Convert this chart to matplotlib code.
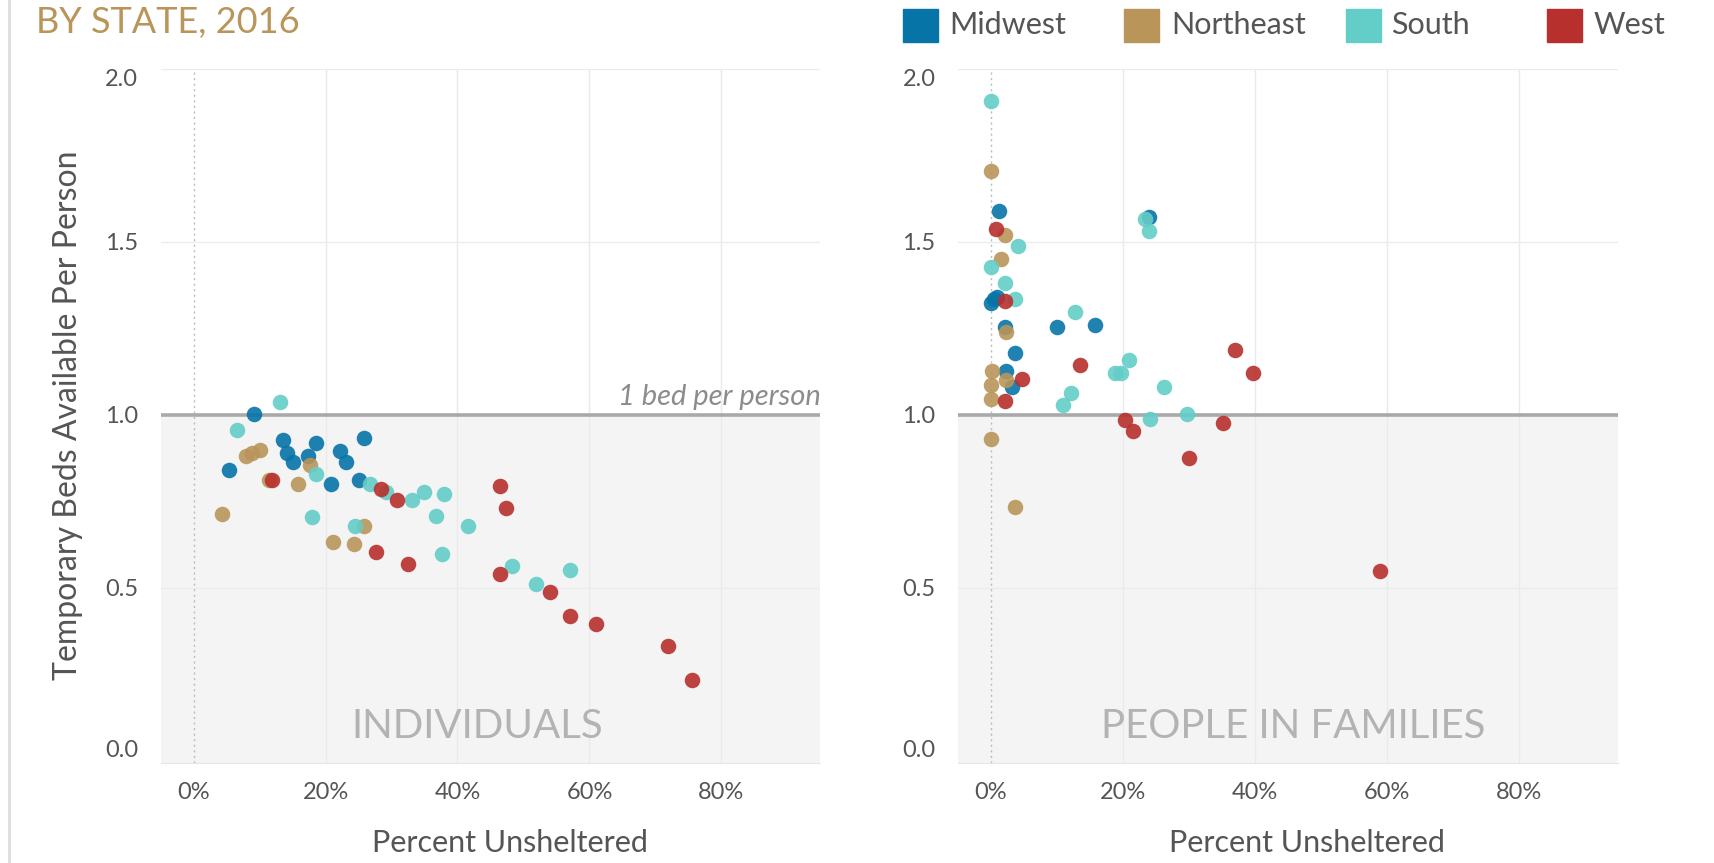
import matplotlib.pyplot as plt
from matplotlib.patches import Rectangle
from matplotlib.lines import Line2D

plt.rcParams['font.family'] = ['Lato', 'DejaVu Sans']

regions = ["Midwest", "Northeast", "South", "West"]
colors = {"Midwest": "#0774a8", "Northeast": "#b9955a", "South": "#63cdc7", "West": "#b7302d"}

# individuals: percent unsheltered (x) and temporary beds per person (y)
ind_midwest_x = [5.4, 9.2, 13.6, 14.2, 15.1, 17.3, 18.5, 20.9, 22.2, 23.1, 25.1, 25.8]
ind_midwest_y = [0.841, 1.003, 0.928, 0.89, 0.863, 0.882, 0.918, 0.80, 0.895, 0.863, 0.813, 0.933]
ind_northeast_x = [4.3, 7.9, 8.8, 10.1, 11.4, 15.8, 17.7, 21.2, 24.3, 25.8]
ind_northeast_y = [0.714, 0.882, 0.89, 0.899, 0.813, 0.80, 0.855, 0.632, 0.627, 0.68]
ind_south_x = [6.6, 13.1, 17.9, 18.5, 24.5, 26.7, 29.2, 33.1, 34.9, 36.7, 37.6, 38.0, 41.6, 48.3, 51.9, 57.1]
ind_south_y = [0.957, 1.037, 0.704, 0.828, 0.68, 0.80, 0.776, 0.753, 0.776, 0.709, 0.599, 0.771, 0.68, 0.563, 0.512, 0.552]
ind_west_x = [11.9, 27.7, 28.4, 30.9, 32.5, 46.4, 47.3, 46.4, 54.0, 57.1, 61.0, 71.9, 75.6]
ind_west_y = [0.813, 0.603, 0.786, 0.755, 0.57, 0.794, 0.73, 0.541, 0.488, 0.419, 0.397, 0.333, 0.235]

# people in families
fam_midwest_x = [1.2, 0.0, 0.5, 1.0, 24.0, 2.2, 10.0, 15.8, 3.7, 2.4, 3.3]
fam_midwest_y = [1.588, 1.322, 1.335, 1.34, 1.571, 1.255, 1.255, 1.259, 1.18, 1.127, 1.08]
fam_northeast_x = [0.0, 2.2, 1.5, 2.4, 0.2, 2.4, 0.0, 0.0, 0.0, 3.7]
fam_northeast_y = [1.705, 1.52, 1.451, 1.24, 1.128, 1.10, 1.087, 1.047, 0.931, 0.734]
fam_south_x = [0.0, 4.2, 0.0, 2.2, 3.7, 23.4, 24.0, 12.8, 12.1, 10.9, 18.8, 19.8, 21.0, 26.2, 24.2, 29.8]
fam_south_y = [1.907, 1.487, 1.427, 1.381, 1.336, 1.566, 1.53, 1.296, 1.063, 1.029, 1.122, 1.122, 1.157, 1.081, 0.989, 1.001]
fam_west_x = [0.8, 2.2, 4.8, 2.2, 13.6, 20.3, 21.6, 35.2, 30.1, 37.0, 39.8, 59.0]
fam_west_y = [1.537, 1.329, 1.104, 1.041, 1.145, 0.984, 0.953, 0.977, 0.874, 1.186, 1.122, 0.55]

individuals = {
    "Midwest": (ind_midwest_x, ind_midwest_y),
    "Northeast": (ind_northeast_x, ind_northeast_y),
    "South": (ind_south_x, ind_south_y),
    "West": (ind_west_x, ind_west_y),
}
families = {
    "Midwest": (fam_midwest_x, fam_midwest_y),
    "Northeast": (fam_northeast_x, fam_northeast_y),
    "South": (fam_south_x, fam_south_y),
    "West": (fam_west_x, fam_west_y),
}

fig = plt.figure(figsize=(17.15, 8.63), dpi=100)
ax1 = fig.add_axes([0.0936, 0.1162, 0.3848, 0.8042])
ax2 = fig.add_axes([0.5584, 0.1162, 0.3848, 0.8042])


def draw_panel(ax, data, panel_label, label_x):
    ax.set_xlim(-5, 95)
    ax.set_ylim(-0.005, 2.0)
    ax.axhspan(-0.005, 1.0, color="#f4f4f4", zorder=0)
    for gx in [20, 40, 60, 80]:
        ax.axvline(gx, color="#eaeaea", lw=1, zorder=1)
    for gy in [0.5, 1.5, 2.0]:
        ax.axhline(gy, color="#ececec", lw=1, zorder=1)
    ax.axvline(0, color="#bbbbbb", lw=1, ls=(0, (1.5, 2.5)), zorder=1)
    ax.axhline(1.0, color="#a9a9a9", lw=2.6, zorder=2)

    for r in regions:
        xs, ys = data[r]
        ax.scatter(xs, ys, s=125, color=colors[r], alpha=0.9, lw=0, zorder=3)

    ax.text(label_x, 0.10, panel_label, color="#b3b3b3", fontsize=29,
            ha="center", va="center", zorder=2)

    ax.set_xticks([0, 20, 40, 60, 80])
    ax.set_xticklabels(["0%", "20%", "40%", "60%", "80%"])
    ax.set_yticks([0.0, 0.5, 1.0, 1.5, 2.0])
    ax.set_yticklabels(["0.0", "0.5", "1.0", "1.5", "2.0"])
    ax.tick_params(length=0, labelsize=17, colors="#555555")
    ax.tick_params(axis="x", pad=14)
    ax.tick_params(axis="y", pad=16)
    labs = ax.get_yticklabels()
    labs[0].set_va("bottom")
    labs[-1].set_va("top")
    for s in ["top", "right", "left"]:
        ax.spines[s].set_visible(False)
    ax.spines["bottom"].set_color("#e6e6e6")
    ax.set_xlabel("Percent Unsheltered", fontsize=22, color="#555555")
    ax.xaxis.set_label_coords(0.53, -0.095)


draw_panel(ax1, individuals, "INDIVIDUALS", 43)
draw_panel(ax2, families, "PEOPLE IN FAMILIES", 45.8)

ax1.text(95, 1.015, "1 bed per person", style="italic", color="#8c8c8c",
         fontsize=21, ha="right", va="bottom")
ax1.set_ylabel("Temporary Beds Available Per Person", fontsize=23, color="#555555")
ax1.yaxis.set_label_coords(-0.118, 0.5)

fig.text(0.021, 0.974, "BY STATE, 2016", color="#b9955a", fontsize=26, ha="left", va="center")

# legend
sq_x = [0.5265, 0.6556, 0.7851, 0.9018]
tx_x = [0.5536, 0.6831, 0.8113, 0.9293]
for r, sx, tx in zip(regions, sq_x, tx_x):
    fig.add_artist(Rectangle((sx, 0.9513), 0.0204, 0.0382, transform=fig.transFigure,
                             color=colors[r]))
    fig.text(tx, 0.971, r, fontsize=22, color="#555555", ha="left", va="center")

fig.add_artist(Line2D([0.005, 0.005], [0, 1], transform=fig.transFigure, color="#dddddd", lw=2))

fig.savefig("out.png", dpi=100, facecolor="white")
